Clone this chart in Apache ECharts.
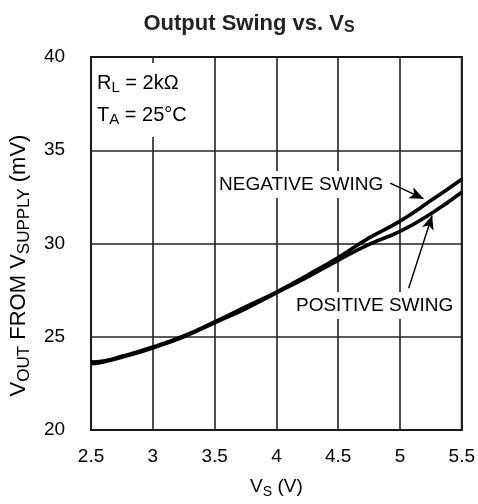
<!DOCTYPE html>
<html lang="en">
<head>
    <meta charset="UTF-8">
    <title>Output Swing vs. VS</title>
    <script src="https://cdn.jsdelivr.net/npm/echarts@6/dist/echarts.min.js"></script>
    <style>
        body { margin: 0; background: #fff; }
        #chart { width: 478px; height: 504px; }
    </style>
</head>
<body>
<div id="chart"></div>
<script>
    // supply voltage (V)
    var vs = [2.5, 2.6, 2.75, 3.0, 3.25, 3.5, 3.75, 4.0, 4.25, 4.5, 4.75, 5.0, 5.25, 5.5];
    // output swing from supply (mV)
    var negativeSwing = [23.65, 23.7, 23.95, 24.45, 25.05, 25.8, 26.6, 27.4, 28.3, 29.25, 30.3, 31.2, 32.3, 33.45];
    var positiveSwing = [23.55, 23.65, 23.9, 24.4, 25.0, 25.75, 26.5, 27.35, 28.2, 29.1, 29.95, 30.65, 31.6, 32.75];

    var font = '"Liberation Sans", Arial, sans-serif';

    function pairs(xs, ys) {
        return xs.map(function (x, i) { return [x, ys[i]]; });
    }

    var chart = echarts.init(document.getElementById('chart'));

    var arrow = function (from, to) {
        return [{ coord: from, symbol: 'none' }, { coord: to, symbol: 'arrow' }];
    };

    var subRich = function (size, sub, drop, key) {
        var r = {
            a: { fontFamily: font, fontSize: size, color: '#000' },
            s: { fontFamily: font, fontSize: sub, color: '#000', padding: [drop, 0, 0, 0] }
        };
        if (key) {
            r.a.fill = '#000';
            r.s.fill = '#000';
        }
        return r;
    };

    chart.setOption({
        animation: false,
        backgroundColor: '#fff',
        textStyle: { fontFamily: font, color: '#000' },
        title: {
            text: '{t|Output Swing vs. V}{s|S}',
            left: 244,
            textAlign: 'center',
            top: 6,
            textStyle: {
                rich: {
                    t: { fontFamily: font, fontSize: 22, fontWeight: 'bold', color: '#222' },
                    s: { fontFamily: font, fontSize: 16, fontWeight: 'bold', color: '#222', padding: [9, 0, 0, 0] }
                }
            }
        },
        grid: {
            left: 89, right: 16, top: 57, bottom: 74,
            show: true, borderColor: '#000', borderWidth: 2
        },
        xAxis: {
            type: 'value', min: 2.5, max: 5.5, interval: 0.5,
            name: '{a|V}{s|S}{a| (V)}',
            nameLocation: 'middle', nameGap: 45,
            nameTextStyle: { rich: subRich(19, 14, 10) },
            axisLine: { show: false },
            axisTick: { show: false },
            axisLabel: { fontFamily: font, fontSize: 19, color: '#000', margin: 17 },
            splitLine: { lineStyle: { color: '#222', width: 1.6 } }
        },
        yAxis: {
            type: 'value', min: 20, max: 40, interval: 5,
            name: '{a|V}{s|OUT}{a| FROM V}{s|SUPPLY}{a| (mV)}',
            nameLocation: 'middle', nameGap: 47, nameRotate: 90,
            nameTextStyle: { rich: subRich(22, 17, 11), padding: [0, 44, 0, 0] },
            axisLine: { show: false },
            axisTick: { show: false },
            axisLabel: { fontFamily: font, fontSize: 19, color: '#000', margin: 26 },
            splitLine: { lineStyle: { color: '#222', width: 1.6 } }
        },
        series: [
            {
                name: 'NEGATIVE SWING',
                type: 'line',
                data: pairs(vs, negativeSwing),
                smooth: true,
                showSymbol: false,
                lineStyle: { color: '#000', width: 3.6 },
                markLine: {
                    silent: true,
                    symbolSize: [9, 14],
                    lineStyle: { color: '#000', width: 1.4, type: 'solid' },
                    label: { show: false },
                    data: [arrow([4.92, 33.24], [5.19, 32.4])]
                }
            },
            {
                name: 'POSITIVE SWING',
                type: 'line',
                data: pairs(vs, positiveSwing),
                smooth: true,
                showSymbol: false,
                lineStyle: { color: '#000', width: 3.6 },
                markLine: {
                    silent: true,
                    symbolSize: [9, 14],
                    lineStyle: { color: '#000', width: 1.4, type: 'solid' },
                    label: { show: false },
                    data: [arrow([5.07, 27.6], [5.26, 31.5])]
                }
            }
        ],
        graphic: [
            {
                type: 'text', left: 93, top: 63, z: 100,
                style: {
                    text: '{a|R}{s|L}{a| = 2kΩ}\n{a|T}{s|A}{a| = 25°C}',
                    backgroundColor: '#fff',
                    padding: [4, 6, 6, 4],
                    lineHeight: 32,
                    rich: subRich(20, 15, 10, true)
                }
            },
            {
                type: 'text', left: 216, top: 171, z: 100,
                style: {
                    text: 'NEGATIVE SWING', fontFamily: font, fontSize: 19, fill: '#000',
                    backgroundColor: '#fff', padding: [4, 3, 4, 3]
                }
            },
            {
                type: 'text', left: 293, top: 292, z: 100,
                style: {
                    text: 'POSITIVE SWING', fontFamily: font, fontSize: 19, fill: '#000',
                    backgroundColor: '#fff', padding: [4, 3, 4, 3]
                }
            }
        ]
    });
</script>
</body>
</html>
